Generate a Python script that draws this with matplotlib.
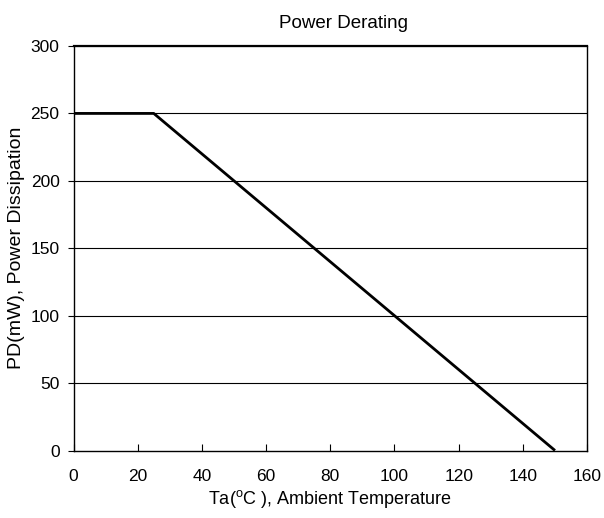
import matplotlib
matplotlib.use("Agg")
import matplotlib.pyplot as plt

plt.rcParams['font.family'] = ['Liberation Sans', 'DejaVu Sans']

# derating curve
temp = [0, 25, 150]
power = [250, 250, 0]

xticks = [0, 20, 40, 60, 80, 100, 120, 140, 160]
yticks = [0, 50, 100, 150, 200, 250, 300]

fig = plt.figure(figsize=(6.04, 5.18), dpi=100)
ax = fig.add_axes([0.1217, 0.1303, 0.8503, 0.7809])

for y in yticks[1:]:
    ax.axhline(y, color='black', lw=0.8, zorder=1)
ax.plot(temp, power, color='black', lw=2, zorder=3, solid_capstyle='butt')

ax.set_xlim(0, 160)
ax.set_ylim(0, 300)
ax.set_xticks(xticks)
ax.set_yticks(yticks)
ax.tick_params(axis='x', direction='in', length=5, width=0.8, pad=13, labelsize=12.5)
ax.tick_params(axis='y', direction='out', length=4, width=0.8, pad=6, labelsize=12.5)
for s in ax.spines.values():
    s.set_linewidth(1.0)
ax.spines['top'].set_linewidth(1.6)

ax.set_title('Power Derating', fontsize=13.5, pad=13, x=0.526)
ax.set_xlabel('Ta($^{\\mathregular{o}}$C ), Ambient Temperature', fontsize=13, labelpad=3)
ax.set_ylabel('PD(mW), Power Dissipation', fontsize=14, labelpad=4)

fig.savefig('out.png', dpi=100)
